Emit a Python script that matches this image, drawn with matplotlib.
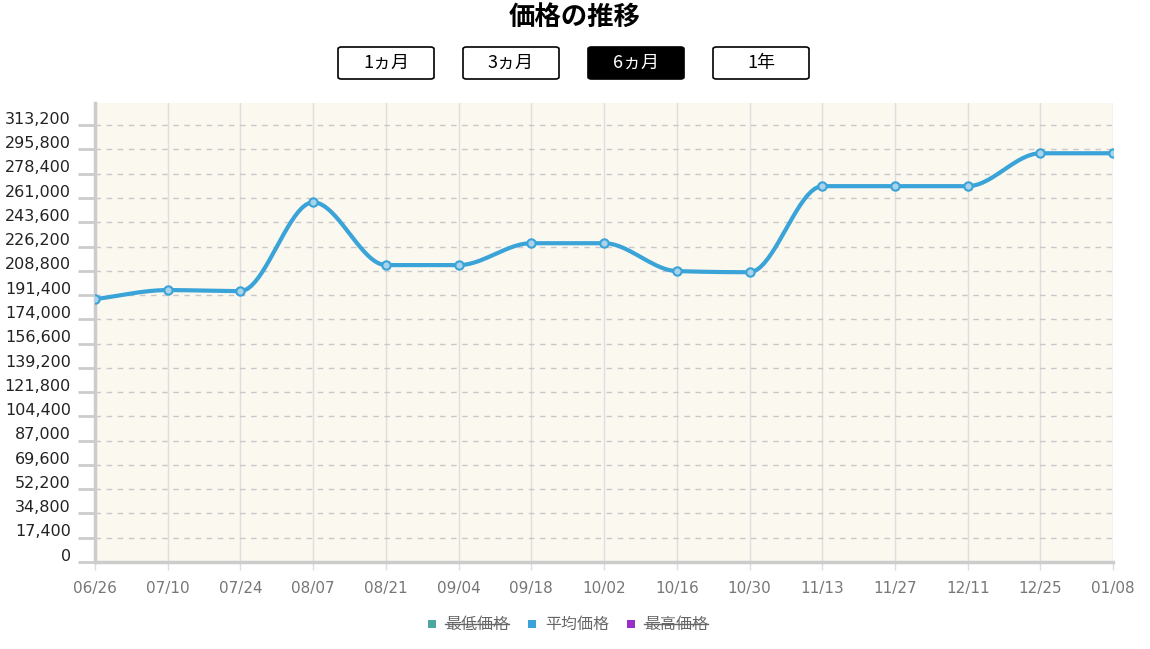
import matplotlib
matplotlib.use("Agg")
import matplotlib.pyplot as plt
from matplotlib.patches import FancyBboxPatch, Rectangle
import numpy as np

plt.rcParams['font.family'] = ['Noto Sans CJK JP', 'DejaVu Sans']

dates = ["06/26", "07/10", "07/24", "08/07", "08/21", "09/04", "09/18", "10/02",
         "10/16", "10/30", "11/13", "11/27", "12/11", "12/25", "01/08"]
avg_price = [188500, 195000, 194200, 258000, 212900, 212900, 228600, 228600,
             208600, 207800, 269500, 269500, 269500, 293100, 293100]
yticks = [i * 17400 for i in range(19)]
buttons = ["1ヵ月", "3ヵ月", "6ヵ月", "1年"]
legend_labels = ["最低価格", "平均価格", "最高価格"]
legend_colors = ["#4aa8a0", "#3aa3dc", "#9b2fc9"]
legend_hidden = [True, False, True]

LINE = "#3aa3d8"


def monotone(x, y, n=20):
    # Fritsch-Carlson monotone cubic, for the smooth line
    x = np.asarray(x, float); y = np.asarray(y, float)
    h = np.diff(x); d = np.diff(y) / h
    m = np.zeros_like(y)
    m[0], m[-1] = d[0], d[-1]
    for i in range(1, len(y) - 1):
        if d[i - 1] * d[i] <= 0:
            m[i] = 0
        else:
            w1 = 2 * h[i] + h[i - 1]; w2 = h[i] + 2 * h[i - 1]
            m[i] = (w1 + w2) / (w1 / d[i - 1] + w2 / d[i])
    xs, ys = [], []
    for i in range(len(h)):
        t = np.linspace(0, 1, n, endpoint=False)
        h00 = 2 * t**3 - 3 * t**2 + 1; h10 = t**3 - 2 * t**2 + t
        h01 = -2 * t**3 + 3 * t**2; h11 = t**3 - t**2
        xs.append(x[i] + t * h[i])
        ys.append(h00 * y[i] + h10 * h[i] * m[i] + h01 * y[i + 1] + h11 * h[i] * m[i + 1])
    xs.append([x[-1]]); ys.append([y[-1]])
    return np.concatenate(xs), np.concatenate(ys)


fig = plt.figure(figsize=(11.5, 6.49), dpi=100)
ax = fig.add_axes([0.0826, 0.134, 0.968 - 0.0826, 0.841 - 0.134])
ax.set_facecolor("#fbf8ef")

x = np.arange(len(dates))
sx, sy = monotone(x, avg_price)
ax.plot(sx, sy, color=LINE, lw=3, zorder=3)
ax.plot(x, avg_price, "o", ms=6, mfc="#a9d3ea", mec=LINE, mew=1.5, zorder=4)

ax.set_xlim(0, len(dates) - 1)
ax.set_ylim(0, 329000)
ax.set_xticks(x)
ax.set_xticklabels(dates, color="#777777", fontsize=11, family=["DejaVu Sans"])
ax.set_yticks(yticks)
ax.set_yticklabels([])
for v in yticks:
    ax.text(-0.33, v + 4200, f"{v:,}", ha="right", va="center", fontsize=11.5,
            color="#222222", family=["DejaVu Sans"], transform=ax.transData, clip_on=False)
ax.grid(axis="y", color="#c8c8c8", ls=(0, (4, 4)), lw=1)
ax.grid(axis="x", color="#dedede", lw=1)
ax.tick_params(axis="y", length=12, width=2, color="#cccccc", pad=2)
ax.tick_params(axis="x", length=6, width=1, color="#dddddd", pad=8)
for s in ["top", "right"]:
    ax.spines[s].set_visible(False)
ax.spines["left"].set_color("#cccccc"); ax.spines["left"].set_linewidth(2.5)
ax.spines["bottom"].set_color("#cccccc"); ax.spines["bottom"].set_linewidth(2.5)

fig.text(0.5, 1 - 17 / 649, "価格の推移", ha="center", va="center", fontsize=19, weight="bold")

W, H = 1150, 649
for i, b in enumerate(buttons):
    x0 = 338 + i * 125
    active = i == 2
    r = FancyBboxPatch((x0 / W, 1 - 79 / H), 96 / W, 32 / H,
                       boxstyle="round,pad=0,rounding_size=0.003", transform=fig.transFigure,
                       fc="black" if active else "white", ec="black", lw=1.2)
    fig.add_artist(r)
    fig.text((x0 + 48) / W, 1 - 63 / H, b, ha="center", va="center", fontsize=13,
             color="white" if active else "black")

fig.canvas.draw()
rend = fig.canvas.get_renderer()
xpos = [428, 528, 627]
for lx, lab, c, hid in zip(xpos, legend_labels, legend_colors, legend_hidden):
    fig.add_artist(Rectangle(((lx) / W, 1 - 628 / H), 8 / W, 8 / H, transform=fig.transFigure,
                             fc=c, ec="none"))
    t = fig.text((lx + 17) / W, 1 - 624 / H, lab, ha="left", va="center", fontsize=11.5,
                 color="#666666")
    if hid:
        bb = t.get_window_extent(rend).transformed(fig.transFigure.inverted())
        fig.add_artist(plt.Line2D([bb.x0, bb.x1], [1 - 624 / H] * 2, transform=fig.transFigure,
                                  color="#666666", lw=1))

fig.savefig("out.png", dpi=100)
